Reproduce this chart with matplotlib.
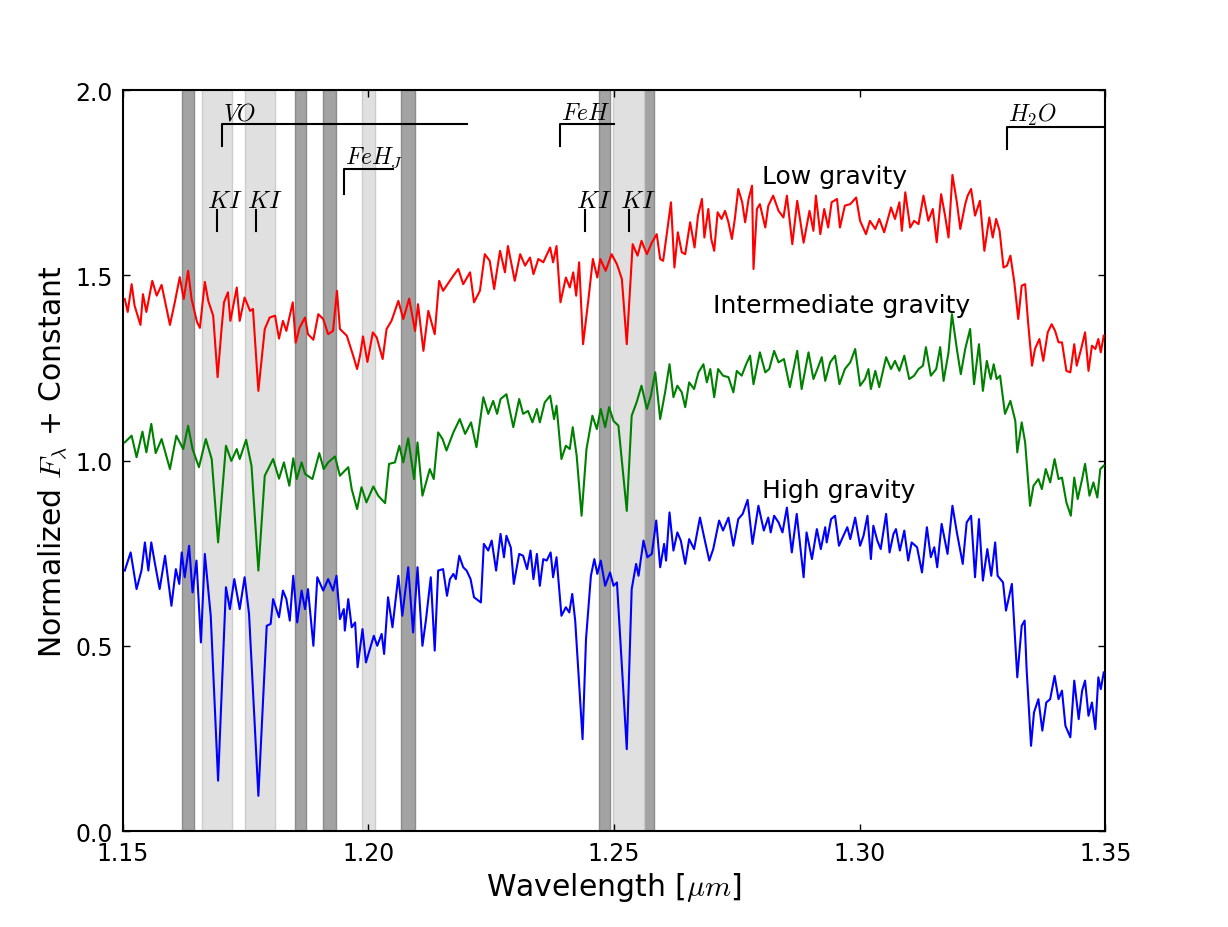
import matplotlib
matplotlib.use("Agg")
import matplotlib.pyplot as plt

# ---- spectra (wavelength in micron, normalized flux + offset) ----
wl_low = [
    1.1504, 1.1510, 1.1518, 1.1524, 1.1536, 1.1541, 1.1548, 1.1560, 1.1569, 1.1579,
    1.1596, 1.1606, 1.1616, 1.1624, 1.1633, 1.1640, 1.1651, 1.1657, 1.1667, 1.1674,
    1.1684, 1.1693, 1.1701, 1.1706, 1.1714, 1.1719, 1.1732, 1.1738, 1.1748, 1.1759,
    1.1765, 1.1776, 1.1789, 1.1799, 1.1810, 1.1818, 1.1826, 1.1833, 1.1846, 1.1852,
    1.1860, 1.1871, 1.1877, 1.1888, 1.1898, 1.1908, 1.1918, 1.1928, 1.1936, 1.1942,
    1.1956, 1.1969, 1.1977, 1.1983, 1.1989, 1.1998, 1.2009, 1.2017, 1.2029, 1.2037,
    1.2047, 1.2061, 1.2071, 1.2083, 1.2095, 1.2101, 1.2112, 1.2122, 1.2135, 1.2144,
    1.2152,
    1.2173, 1.2183, 1.2193, 1.2207, 1.2215, 1.2227, 1.2237, 1.2247, 1.2256, 1.2268,
    1.2278, 1.2284, 1.2298, 1.2309, 1.2319, 1.2329, 1.2336, 1.2346, 1.2356, 1.2370,
    1.2376, 1.2383, 1.2391, 1.2402, 1.2410, 1.2417, 1.2423, 1.2429, 1.2437, 1.2448,
    1.2457, 1.2466, 1.2472, 1.2483, 1.2495, 1.2506, 1.2516, 1.2526, 1.2538, 1.2548,
    1.2556, 1.2567, 1.2577, 1.2587, 1.2594,
    1.2600, 1.2607, 1.2616, 1.2623, 1.2630, 1.2638, 1.2645, 1.2655, 1.2664, 1.2671,
    1.2679, 1.2684, 1.2692, 1.2698, 1.2704, 1.2711, 1.2719, 1.2726, 1.2733, 1.2740,
    1.2746, 1.2753, 1.2761, 1.2767, 1.2774, 1.2781, 1.2784, 1.2791, 1.2797,
    1.2808, 1.2814, 1.2824, 1.2835, 1.2845, 1.2852, 1.2863, 1.2873, 1.2886, 1.2898,
    1.2906, 1.2911, 1.2920, 1.2928, 1.2936, 1.2943, 1.2954, 1.2960, 1.2970, 1.2981,
    1.2993, 1.3001, 1.3013, 1.3021, 1.3032, 1.3040, 1.3050, 1.3064, 1.3072, 1.3081,
    1.3086, 1.3093, 1.3103, 1.3111, 1.3120, 1.3130, 1.3140, 1.3149, 1.3157, 1.3166,
    1.3174, 1.3181, 1.3189, 1.3198, 1.3205, 1.3215, 1.3220, 1.3227, 1.3235, 1.3245,
    1.3254, 1.3264, 1.3271, 1.3278, 1.3285, 1.3293, 1.3300, 1.3307, 1.3315, 1.3323,
    1.3330, 1.3337, 1.3343, 1.3351, 1.3357, 1.3366, 1.3374, 1.3383, 1.3391, 1.3398,
    1.3405, 1.3412, 1.3421, 1.3429, 1.3437, 1.3442, 1.3451, 1.3459, 1.3466, 1.3473,
    1.3480, 1.3486, 1.3491, 1.3497,
]
flux_low = [
    1.436, 1.401, 1.476, 1.418, 1.366, 1.449, 1.401, 1.485, 1.445, 1.474,
    1.366, 1.428, 1.495, 1.436, 1.512, 1.436, 1.374, 1.358, 1.482, 1.431,
    1.391, 1.225, 1.355, 1.427, 1.454, 1.377, 1.467, 1.377, 1.440, 1.404,
    1.409, 1.188, 1.355, 1.386, 1.391, 1.329, 1.377, 1.350, 1.427, 1.318,
    1.359, 1.386, 1.341, 1.326, 1.395, 1.382, 1.341, 1.350, 1.458, 1.355,
    1.337, 1.283, 1.247, 1.283, 1.335, 1.266, 1.346, 1.332, 1.274, 1.355,
    1.377, 1.431, 1.382, 1.437, 1.350, 1.422, 1.296, 1.404, 1.341, 1.485,
    1.458,
    1.499, 1.517, 1.476, 1.508, 1.427, 1.458, 1.557, 1.539, 1.463, 1.566,
    1.508, 1.579, 1.485, 1.557, 1.526, 1.548, 1.503, 1.544, 1.535, 1.575,
    1.535, 1.579, 1.427, 1.494, 1.467, 1.508, 1.445, 1.535, 1.314, 1.436,
    1.544, 1.494, 1.544, 1.512, 1.557, 1.530, 1.490, 1.314, 1.584, 1.553,
    1.593, 1.557, 1.588, 1.611, 1.544,
    1.539, 1.607, 1.697, 1.521, 1.616, 1.562, 1.557, 1.643, 1.575, 1.661,
    1.706, 1.602, 1.679, 1.598, 1.566, 1.670, 1.652, 1.674, 1.643, 1.598,
    1.652, 1.733, 1.697, 1.643, 1.706, 1.742, 1.517, 1.679, 1.692,
    1.629, 1.687, 1.715, 1.674, 1.656, 1.715, 1.584, 1.701, 1.588, 1.674,
    1.620, 1.715, 1.611, 1.679, 1.629, 1.697, 1.706, 1.629, 1.688, 1.692,
    1.710, 1.647, 1.611, 1.647, 1.625, 1.652, 1.616, 1.683, 1.652, 1.697,
    1.620, 1.724, 1.629, 1.647, 1.638, 1.715, 1.647, 1.679, 1.589, 1.719,
    1.661, 1.602, 1.771, 1.697, 1.625, 1.692, 1.715, 1.733, 1.661, 1.701,
    1.566, 1.656, 1.602, 1.652, 1.620, 1.521, 1.526, 1.553, 1.481, 1.382,
    1.472, 1.476, 1.373, 1.256, 1.301, 1.328, 1.269, 1.346, 1.368, 1.350,
    1.319, 1.319, 1.242, 1.238, 1.314, 1.256, 1.301, 1.346, 1.242, 1.310,
    1.301, 1.328, 1.292, 1.337,
]

wl_mid = [
    1.1504, 1.1518, 1.1528, 1.1540, 1.1548, 1.1558, 1.1567, 1.1579, 1.1596, 1.1609,
    1.1623, 1.1633, 1.1642, 1.1655, 1.1669, 1.1681, 1.1694, 1.1710, 1.1721, 1.1732,
    1.1738, 1.1751, 1.1762, 1.1776, 1.1789, 1.1806, 1.1818, 1.1828, 1.1839, 1.1847,
    1.1854, 1.1864, 1.1871, 1.1886, 1.1900, 1.1909, 1.1918, 1.1932, 1.1942, 1.1959,
    1.1966, 1.1977, 1.1986, 1.1996, 1.2010, 1.2020, 1.2034, 1.2042, 1.2054, 1.2063,
    1.2071, 1.2081, 1.2093, 1.2100, 1.2110, 1.2125, 1.2133, 1.2142, 1.2151,
    1.2159, 1.2173, 1.2186, 1.2197, 1.2209, 1.2220, 1.2234, 1.2244, 1.2254, 1.2262,
    1.2269, 1.2281, 1.2295, 1.2307, 1.2315, 1.2325, 1.2334, 1.2343, 1.2349, 1.2359,
    1.2370, 1.2378, 1.2383, 1.2393, 1.2402, 1.2410, 1.2416, 1.2424, 1.2434, 1.2444,
    1.2456, 1.2465, 1.2473, 1.2482, 1.2490, 1.2499, 1.2509, 1.2526, 1.2536, 1.2546,
    1.2556, 1.2567, 1.2575, 1.2584, 1.2594, 1.2604, 1.2613, 1.2621, 1.2629, 1.2638,
    1.2645, 1.2653, 1.2663, 1.2672, 1.2682, 1.2689, 1.2696, 1.2704, 1.2712, 1.2722,
    1.2733, 1.2743, 1.2750, 1.2760, 1.2769, 1.2777, 1.2784, 1.2797,
    1.2808, 1.2816, 1.2826, 1.2835, 1.2846, 1.2858, 1.2873, 1.2882, 1.2896, 1.2906,
    1.2914, 1.2923, 1.2930, 1.2940, 1.2950, 1.2959, 1.2970, 1.2981, 1.2991, 1.3001,
    1.3011, 1.3018, 1.3023, 1.3032, 1.3040, 1.3054, 1.3064, 1.3072, 1.3081, 1.3091,
    1.3101, 1.3111, 1.3120, 1.3129, 1.3135, 1.3145, 1.3156, 1.3164, 1.3171, 1.3181,
    1.3188, 1.3198, 1.3206, 1.3215, 1.3225, 1.3233, 1.3243, 1.3251, 1.3259, 1.3267,
    1.3273, 1.3279, 1.3286, 1.3296, 1.3307, 1.3317, 1.3321, 1.3330, 1.3337, 1.3347,
    1.3354, 1.3364, 1.3371, 1.3379, 1.3388, 1.3397, 1.3405, 1.3412, 1.3421, 1.3430,
    1.3437, 1.3444, 1.3453, 1.3459, 1.3468, 1.3476, 1.3484, 1.3490, 1.3497,
]
flux_mid = [
    1.049, 1.067, 1.009, 1.078, 1.022, 1.099, 1.020, 1.058, 0.977, 1.067,
    1.031, 1.094, 1.031, 0.982, 1.058, 1.004, 0.779, 1.040, 0.999, 1.031,
    1.004, 1.056, 0.986, 0.703, 0.959, 1.004, 0.951, 0.995, 0.932, 1.006,
    0.950, 0.995, 0.964, 0.950, 1.020, 0.977, 0.995, 1.011, 0.959, 0.982,
    0.923, 0.869, 0.928, 0.887, 0.930, 0.905, 0.885, 0.991, 0.995, 1.040,
    0.995, 1.060, 0.950, 1.049, 0.905, 0.977, 0.950, 1.076, 1.058,
    1.027, 1.076, 1.112, 1.072, 1.103, 1.036, 1.171, 1.126, 1.161, 1.126,
    1.166, 1.179, 1.090, 1.166, 1.126, 1.134, 1.103, 1.139, 1.103, 1.157,
    1.175, 1.112, 1.148, 1.004, 1.040, 1.031, 1.090, 1.013, 0.851, 1.031,
    1.121, 1.085, 1.139, 1.090, 1.144, 1.107, 1.094, 0.864, 1.121, 1.157,
    1.202, 1.139, 1.175, 1.238, 1.112, 1.184, 1.260, 1.171, 1.202, 1.184,
    1.144, 1.211, 1.193, 1.238, 1.260, 1.211, 1.247, 1.171, 1.247, 1.229,
    1.225, 1.184, 1.242, 1.229, 1.260, 1.283, 1.206, 1.292,
    1.238, 1.247, 1.296, 1.265, 1.274, 1.198, 1.296, 1.193, 1.292, 1.220,
    1.247, 1.279, 1.215, 1.265, 1.283, 1.206, 1.247, 1.265, 1.301, 1.202,
    1.220, 1.247, 1.193, 1.242, 1.198, 1.279, 1.247, 1.269, 1.242, 1.283,
    1.220, 1.229, 1.247, 1.256, 1.306, 1.229, 1.247, 1.306, 1.215, 1.292,
    1.395, 1.301, 1.233, 1.301, 1.355, 1.206, 1.314, 1.188, 1.269, 1.220,
    1.260, 1.220, 1.229, 1.126, 1.161, 1.107, 1.022, 1.103, 1.049, 0.878,
    0.932, 0.950, 0.923, 0.977, 0.941, 1.004, 0.950, 0.954, 0.887, 0.851,
    0.954, 0.896, 0.950, 0.991, 0.905, 0.941, 0.900, 0.977, 0.986,
]

wl_high = [
    1.1504, 1.1516, 1.1528, 1.1538, 1.1545, 1.1552, 1.1558, 1.1565, 1.1575, 1.1586,
    1.1599, 1.1608, 1.1615, 1.1620, 1.1626, 1.1635, 1.1642, 1.1650, 1.1659, 1.1667,
    1.1679, 1.1694, 1.1710, 1.1718, 1.1727, 1.1738, 1.1748, 1.1757, 1.1776, 1.1793,
    1.1801, 1.1806, 1.1818, 1.1826, 1.1833, 1.1840, 1.1847, 1.1855, 1.1864, 1.1871,
    1.1877, 1.1888, 1.1896, 1.1908, 1.1918, 1.1928, 1.1935, 1.1942, 1.1950, 1.1952,
    1.1959, 1.1966, 1.1973, 1.1978, 1.1988, 1.1995, 1.2003, 1.2011, 1.2018, 1.2027,
    1.2032, 1.2040, 1.2049, 1.2061, 1.2069, 1.2081, 1.2091, 1.2100, 1.2110, 1.2117,
    1.2127, 1.2135, 1.2142,
    1.2152, 1.2160, 1.2166, 1.2173, 1.2178, 1.2185, 1.2193, 1.2200, 1.2208, 1.2215,
    1.2229, 1.2235, 1.2244, 1.2251, 1.2260, 1.2269, 1.2276, 1.2281, 1.2290, 1.2296,
    1.2307, 1.2315, 1.2323, 1.2330, 1.2336, 1.2343, 1.2349, 1.2356, 1.2363, 1.2371,
    1.2376, 1.2383, 1.2393, 1.2402, 1.2409, 1.2415, 1.2421, 1.2436, 1.2443, 1.2453,
    1.2460, 1.2466, 1.2473, 1.2482, 1.2492, 1.2499, 1.2506, 1.2526, 1.2536, 1.2545,
    1.2550, 1.2560, 1.2568, 1.2577, 1.2586, 1.2594, 1.2602, 1.2606, 1.2613, 1.2621,
    1.2629, 1.2636, 1.2645, 1.2653, 1.2663, 1.2675, 1.2685, 1.2694, 1.2702, 1.2714,
    1.2722, 1.2733, 1.2743, 1.2753, 1.2762, 1.2772, 1.2782, 1.2794,
    1.2805, 1.2814, 1.2819, 1.2826, 1.2835, 1.2843, 1.2852, 1.2862, 1.2872, 1.2886,
    1.2892, 1.2903, 1.2913, 1.2921, 1.2930, 1.2933, 1.2942, 1.2950, 1.2958, 1.2967,
    1.2975, 1.2981, 1.2991, 1.3001, 1.3008, 1.3016, 1.3023, 1.3028, 1.3036, 1.3043,
    1.3054, 1.3061, 1.3069, 1.3074, 1.3082, 1.3091, 1.3099, 1.3106, 1.3117, 1.3127,
    1.3137, 1.3145, 1.3152, 1.3158, 1.3167, 1.3179, 1.3189, 1.3198, 1.3210, 1.3218,
    1.3227, 1.3235, 1.3243, 1.3251, 1.3260, 1.3268, 1.3276, 1.3281, 1.3292, 1.3298,
    1.3310, 1.3321, 1.3330, 1.3336, 1.3340, 1.3349, 1.3355, 1.3364, 1.3372, 1.3380,
    1.3388, 1.3397, 1.3405, 1.3412, 1.3419, 1.3429, 1.3437, 1.3446, 1.3453, 1.3459,
    1.3466, 1.3473, 1.3480, 1.3486, 1.3491, 1.3497,
]
flux_high = [
    0.703, 0.752, 0.653, 0.703, 0.779, 0.703, 0.779, 0.725, 0.653, 0.743,
    0.608, 0.707, 0.667, 0.752, 0.685, 0.770, 0.644, 0.730, 0.509, 0.748,
    0.581, 0.136, 0.658, 0.599, 0.680, 0.599, 0.685, 0.586, 0.095, 0.554,
    0.559, 0.626, 0.577, 0.649, 0.626, 0.568, 0.689, 0.563, 0.649, 0.599,
    0.653, 0.500, 0.685, 0.649, 0.680, 0.649, 0.689, 0.572, 0.599, 0.541,
    0.626, 0.550, 0.563, 0.442, 0.545, 0.455, 0.491, 0.527, 0.500, 0.532,
    0.478, 0.631, 0.550, 0.689, 0.581, 0.712, 0.536, 0.712, 0.500, 0.568,
    0.685, 0.487, 0.703,
    0.707, 0.635, 0.680, 0.694, 0.680, 0.743, 0.712, 0.703, 0.680, 0.631,
    0.617, 0.775, 0.757, 0.784, 0.703, 0.802, 0.739, 0.797, 0.765, 0.667,
    0.748, 0.743, 0.707, 0.757, 0.680, 0.748, 0.662, 0.734, 0.730, 0.752,
    0.685, 0.739, 0.581, 0.604, 0.590, 0.640, 0.568, 0.248, 0.518, 0.689,
    0.734, 0.694, 0.730, 0.662, 0.698, 0.662, 0.671, 0.221, 0.653, 0.721,
    0.689, 0.784, 0.739, 0.748, 0.838, 0.712, 0.775, 0.730, 0.860, 0.757,
    0.806, 0.784, 0.721, 0.788, 0.761, 0.846, 0.784, 0.730, 0.761, 0.838,
    0.811, 0.846, 0.770, 0.842, 0.856, 0.894, 0.775, 0.878,
    0.811, 0.846, 0.806, 0.851, 0.833, 0.806, 0.873, 0.752, 0.856, 0.685,
    0.806, 0.734, 0.815, 0.761, 0.820, 0.779, 0.842, 0.851, 0.770, 0.797,
    0.820, 0.788, 0.846, 0.770, 0.797, 0.851, 0.734, 0.824, 0.784, 0.761,
    0.856, 0.752, 0.802, 0.815, 0.757, 0.811, 0.730, 0.779, 0.766, 0.698,
    0.820, 0.739, 0.766, 0.712, 0.829, 0.748, 0.878, 0.806, 0.721, 0.833,
    0.851, 0.685, 0.842, 0.676, 0.761, 0.689, 0.779, 0.689, 0.671, 0.595,
    0.667, 0.415, 0.554, 0.568, 0.437, 0.230, 0.320, 0.356, 0.271, 0.347,
    0.356, 0.419, 0.356, 0.379, 0.284, 0.253, 0.406, 0.302, 0.379, 0.406,
    0.311, 0.347, 0.275, 0.415, 0.383, 0.428,
]

# shaded wavelength windows (micron)
dark_bands = [(1.1620, 1.1644), (1.1851, 1.1873), (1.1908, 1.1934),
              (1.2067, 1.2095), (1.2470, 1.2492), (1.2561, 1.2582)]
light_bands = [(1.1662, 1.1723), (1.1749, 1.1810), (1.1987, 1.2013),
               (1.2498, 1.2561)]

# K I line centres and molecular band heads (start, end)
ki_lines = [1.1691, 1.1771, 1.2441, 1.2531]
molecule_names = [r'$VO$', r'$FeH_J$', r'$FeH$', r'$H_2O$']
molecule_ranges = [(1.1702, 1.2201), (1.1951, 1.2051), (1.2391, 1.2500), (1.3300, 1.3500)]
molecule_levels = [1.908, 1.787, 1.908, 1.900]

series_names = ['Low gravity', 'Intermediate gravity', 'High gravity']

plt.rcParams['font.family'] = ['DejaVu Sans']
plt.rcParams['mathtext.fontset'] = 'cm'
plt.rcParams['xtick.direction'] = 'in'
plt.rcParams['ytick.direction'] = 'in'
plt.rcParams['xtick.top'] = True
plt.rcParams['ytick.right'] = True
plt.rcParams['xtick.major.size'] = 5
plt.rcParams['ytick.major.size'] = 5

fig = plt.figure(figsize=(12.28, 9.28), dpi=100)
ax = fig.add_axes([0.1, 0.1034, 0.8, 0.7985])

for a, b in dark_bands:
    ax.axvspan(a, b, facecolor='0.64', edgecolor='0.55', lw=1.0, zorder=1)
for a, b in light_bands:
    ax.axvspan(a, b, facecolor='0.88', edgecolor='0.80', lw=1.0, zorder=1)

ax.plot(wl_low, flux_low, color='red', lw=1.5, zorder=3)
ax.plot(wl_mid, flux_mid, color='green', lw=1.5, zorder=3)
ax.plot(wl_high, flux_high, color='blue', lw=1.5, zorder=3)

# K I markers
for w in ki_lines:
    ax.plot([w, w], [1.619, 1.677], color='k', lw=1.5, zorder=4)
    ax.text(w - 0.0019, 1.672, r'$KI$', ha='left', va='bottom', fontsize=18, zorder=4)

# molecular band brackets
for name, (a, b), lev in zip(molecule_names, molecule_ranges, molecule_levels):
    drop = 0.06 if name != r'$FeH_J$' else 0.068
    ax.plot([a, a, b], [lev - drop, lev, lev], color='k', lw=1.5, zorder=4,
            clip_on=False)
    ax.text(a + 0.0002, lev - 0.001, name, ha='left', va='bottom', fontsize=17,
            zorder=4)

ax.text(1.2801, 1.768, series_names[0], fontsize=18, va='center')
ax.text(1.2702, 1.420, series_names[1], fontsize=18, va='center')
ax.text(1.2801, 0.920, series_names[2], fontsize=18, va='center')

ax.set_xlim(1.15, 1.35)
ax.set_ylim(0.0, 2.0)
ax.set_xticks([1.15, 1.20, 1.25, 1.30, 1.35])
ax.set_yticks([0.0, 0.5, 1.0, 1.5, 2.0])
ax.tick_params(labelsize=17, pad=7, width=1)
for s in ax.spines.values():
    s.set_linewidth(1.5)

ax.set_xlabel(r'Wavelength [$\mu m$]', fontsize=21.5)
ax.set_ylabel(r'Normalized $F_\lambda$ + Constant', fontsize=21.5)

fig.savefig('out.png', dpi=100, facecolor='white')
